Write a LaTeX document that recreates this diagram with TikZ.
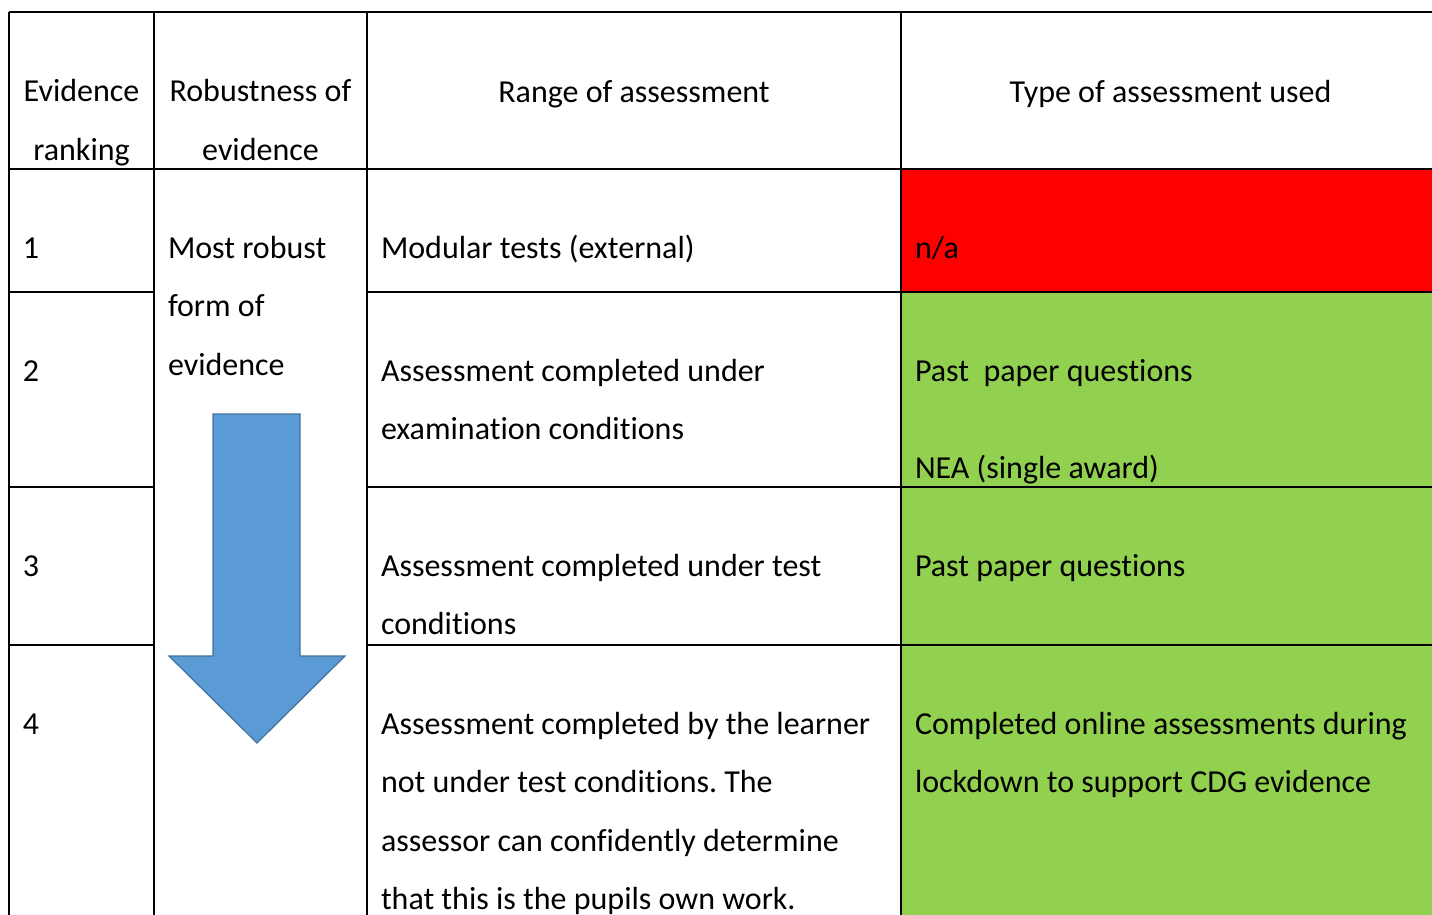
\documentclass[tikz,border=0pt]{standalone}
\usepackage{fontspec}
\setmainfont{Carlito}[Ligatures=NoCommon]
\frenchspacing
\definecolor{cellred}{HTML}{FF0000}
\definecolor{cellgreen}{HTML}{92D050}
\definecolor{arrowfill}{HTML}{5B9BD5}
\definecolor{arrowline}{HTML}{41719C}
\begin{document}
\begin{tikzpicture}[x=1pt, y=-1pt, line width=2pt,
    font=\fontsize{32}{58.5}\selectfont,
    head/.style = {anchor=base, inner sep=0pt, align=center},
    cell/.style = {anchor=base west, inner sep=0pt, align=left}]
    \useasboundingbox (0,0) rectangle (1432,914);
    % cell colours
    \fill[cellred] (901,169) rectangle (1440,292);
    \fill[cellgreen] (901,292) rectangle (1440,930);
    % grid
    \foreach \x in {9,154,367,901,1440}
      \draw (\x,12) -- (\x,930);
    \draw (9,12) -- (1440,12);
    \draw (9,169) -- (1440,169);
    \foreach \y in {292,487,645} {
      \draw (9,\y) -- (154,\y);
      \draw (367,\y) -- (1440,\y);
    }
    % header (anchor is on the last line)
    \node[head] (rank) at (81.5,160) {Evidence\\ranking};
    \node[head] (robust) at (260.5,160) {Robustness of\\evidence};
    \node[head] (range) at (634,102) {Range of assessment};
    \node[head] (type) at (1170.5,102) {Type of assessment used};
    % ranking column
    \node[cell] (one) at (22,258) {1};
    \node[cell] (two) at (22,381) {2};
    \node[cell] (three) at (22,576) {3};
    \node[cell] (four) at (22,734) {4};
    % robustness column
    \node[cell] (most) at (167,375) {Most robust\\form of\\evidence};
    \draw[line width=1.2pt, draw=arrowline, fill=arrowfill]
      (213,414) -- (300,414) -- (300,656) -- (345,656) -- (257,743)
      -- (169,656) -- (213,656) -- cycle;
    % range column
    \node[cell] (modular) at (380,258) {Modular tests (external)};
    \node[cell] (exam) at (380,439.5) {Assessment completed under\\examination conditions};
    \node[cell] (test) at (380,634.5) {Assessment completed under test\\conditions};
    \node[cell] (learner) at (380,909.5) {Assessment completed by the learner\\not under test conditions. The\\assessor can confidently determine\\that this is the pupils own work.};
    % type column
    \node[cell] (na) at (914,258) {n/a};
    \node[cell] (past) at (914,478) {Past\ \ paper questions\\[38.5pt]NEA (single award)};
    \node[cell] (pasttest) at (914,576) {Past paper questions};
    \node[cell] (online) at (914,792.5) {Completed online assessments during\\lockdown to support CDG evidence};
\end{tikzpicture}
\end{document}
